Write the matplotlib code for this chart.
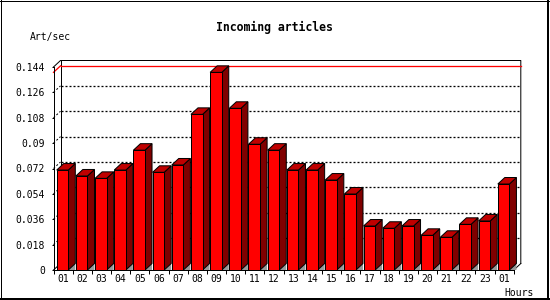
import numpy as np
import matplotlib
matplotlib.use("Agg")
import matplotlib.pyplot as plt
from matplotlib.patches import Rectangle, Polygon
from matplotlib.lines import Line2D

# ========== DATA ==========
hours = ['01', '02', '03', '04', '05', '06', '07', '08', '09', '10', '11', '12',
         '13', '14', '15', '16', '17', '18', '19', '20', '21', '22', '23', '01']
art_per_sec = [0.0709, 0.0667, 0.0650, 0.0709, 0.0850, 0.0693, 0.0745, 0.1104,
               0.1402, 0.1147, 0.0892, 0.0850, 0.0709, 0.0709, 0.0638, 0.0539,
               0.0312, 0.0296, 0.0312, 0.0246, 0.0232, 0.0324, 0.0348, 0.0610]
y_ticks = [0, 0.018, 0.036, 0.054, 0.072, 0.090, 0.108, 0.126, 0.144]

# ========== STYLE ==========
W, H, DPI = 550, 300, 100
PX = 72.0 / DPI                 # one pixel in points
FRONT = '#ff0000'
SIDE = '#800000'
TOP = '#c00000'
FLOOR = '#999999'
DEPTH_PX = (7.0, 6.5)           # 3d depth offset in pixels
BAR_OFF, BAR_W = 0.167, 0.605   # bar position inside each slot
FONT = 'DejaVu Sans Mono'

plt.rcParams['font.family'] = FONT
plt.rcParams['lines.scale_dashes'] = False

fig = plt.figure(figsize=(W / DPI, H / DPI), dpi=DPI)
# plot area (front plane) in pixels: x 53.5..513.8, y 67..270 from top
ax = fig.add_axes([53.5 / W, (H - 270) / H, 460.3 / W, 203 / H])
ax.set_facecolor('none')
n = len(art_per_sec)
ax.set_xlim(0, n)
ax.set_ylim(0, y_ticks[-1])

# depth offset in data units
pos = ax.get_position()
dx = DEPTH_PX[0] / (pos.width * W) * n
dy = DEPTH_PX[1] / (pos.height * H) * y_ticks[-1]
ymax = y_ticks[-1]

lw = PX
# back wall + left wall outline
ax.add_line(Line2D([0, dx, n + dx, n + dx], [ymax, ymax + dy, ymax + dy, dy],
                   color='black', lw=lw, clip_on=False, zorder=1))
ax.add_line(Line2D([dx, dx], [dy, ymax + dy], color='black', lw=lw, clip_on=False, zorder=1))
ax.add_line(Line2D([0, dx], [0, dy], color='black', lw=lw, clip_on=False, zorder=1))
ax.add_line(Line2D([n, n + dx], [0, dy], color='black', lw=lw, clip_on=False, zorder=1))

# dashed grid lines: short diagonal on the side wall, then along the back wall
for v in y_ticks[1:-1]:
    ax.add_line(Line2D([0, dx], [v, v + dy], color='black', lw=lw,
                       linestyle=(0, (2 * PX, 2 * PX)), clip_on=False, zorder=1))
    ax.add_line(Line2D([dx, n + dx], [v + dy, v + dy], color='black', lw=1.3 * lw,
                       linestyle=(0, (2 * PX, 2 * PX)), snap=True, clip_on=False, zorder=1))

# max value line
vmax = max(art_per_sec)
ax.add_line(Line2D([0, dx], [vmax, vmax + dy], color='red', lw=1.3 * lw,
                   clip_on=False, zorder=1.5))
ax.add_line(Line2D([dx, n + dx], [vmax + dy, vmax + dy], color='red', lw=1.3 * lw,
                   snap=True, clip_on=False, zorder=1.5))

# bars
for i, v in enumerate(art_per_sec):
    xl = i + BAR_OFF
    xr = xl + BAR_W
    ax.add_patch(Polygon([(xr, 0), (xr + dx, dy), (xr + dx, 0)], closed=True,
                         fc=FLOOR, ec='none', clip_on=False, zorder=2))
    ax.add_patch(Polygon([(xr, 0), (xr + dx, dy), (xr + dx, v + dy), (xr, v)], closed=True,
                         fc=SIDE, ec='black', lw=lw, clip_on=False, zorder=3))
    ax.add_patch(Polygon([(xl, v), (xl + dx, v + dy), (xr + dx, v + dy), (xr, v)], closed=True,
                         fc=TOP, ec='black', lw=lw, clip_on=False, zorder=3))
    ax.add_patch(Rectangle((xl, 0), BAR_W, v, fc=FRONT, ec='black', lw=lw,
                           clip_on=False, zorder=4))

# axes, ticks and labels
for s in ['top', 'right']:
    ax.spines[s].set_visible(False)
for s in ['left', 'bottom']:
    ax.spines[s].set_linewidth(lw)
    ax.spines[s].set_zorder(5)

ax.set_yticks(y_ticks, [f'{v:g}' for v in y_ticks])
ax.tick_params(axis='y', direction='out', length=2 * PX, width=lw, pad=6.5 * PX,
               labelsize=7)
ax.set_xticks(np.arange(n) + 0.5, hours)
ax.set_xticks(np.arange(n + 1), minor=True)
ax.tick_params(axis='x', which='major', length=0, pad=4.3 * PX, labelsize=7)
ax.tick_params(axis='x', which='minor', direction='out', length=4 * PX, width=lw)

# texts
fig.text(274 / W, 1 - 27 / H, 'Incoming articles', ha='center', va='center',
         fontsize=8.3, fontweight='bold')
fig.text(30 / W, 1 - 37 / H, 'Art/sec', ha='left', va='center', fontsize=7)
fig.text(504 / W, 1 - 292.7 / H, 'Hours', ha='left', va='center', fontsize=7)

# image frame
frame = dict(color='black', transform=fig.transFigure, clip_on=False)
fig.add_artist(Line2D([0.5 / W, 0.5 / W], [0, 1], lw=PX, **frame))
fig.add_artist(Line2D([0, 548.5 / W], [1 - 0.5 / H, 1 - 0.5 / H], lw=PX, **frame))
fig.add_artist(Line2D([547.5 / W, 547.5 / W], [1 - 299 / H, 1], lw=2 * PX, **frame))
fig.add_artist(Line2D([0, 548.5 / W], [1 - 299 / H, 1 - 299 / H], lw=2 * PX, **frame))

fig.savefig('out.png', dpi=DPI, facecolor='white')
